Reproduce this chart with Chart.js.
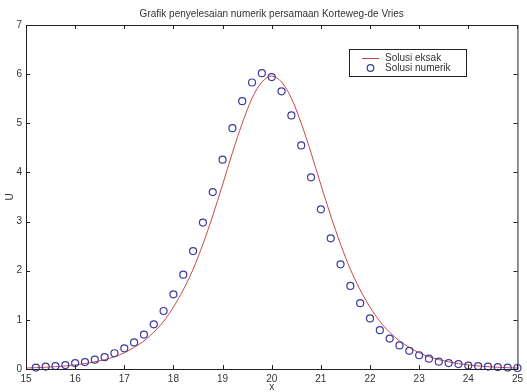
<!DOCTYPE html>
<html>
<head>
<meta charset="utf-8">
<script src="https://cdn.jsdelivr.net/npm/chart.js@4/dist/chart.umd.min.js"></script>
<style>
    html, body { margin: 0; padding: 0; background: #fff; }
    #wrap { width: 527px; height: 392px; }
</style>
</head>
<body>
<div id="wrap"><canvas id="kdvChart"></canvas></div>
<script>
const chartTitle = 'Grafik penyelesaian numerik persamaan Korteweg-de Vries';
const legendLabels = ['Solusi eksak', 'Solusi numerik'];

const exactX = [15, 15.2, 15.4, 15.6, 15.8, 16, 16.2, 16.4, 16.6, 16.8, 17, 17.2, 17.4, 17.6, 17.8,
    18, 18.2, 18.4, 18.6, 18.8, 19, 19.2, 19.4, 19.6, 19.8, 20, 20.2, 20.4, 20.6, 20.8, 21, 21.2,
    21.4, 21.6, 21.8, 22, 22.2, 22.4, 22.6, 22.8, 23, 23.2, 23.4, 23.6, 23.8, 24, 24.2, 24.4, 24.6, 24.8, 25];
const exactU = [0.02, 0.027, 0.036, 0.047, 0.062, 0.083, 0.11, 0.145, 0.19, 0.25, 0.33, 0.44, 0.57, 0.75, 0.97,
    1.26, 1.61, 2.03, 2.54, 3.12, 3.75, 4.40, 5.00, 5.51, 5.84, 5.96, 5.84, 5.51, 5.00, 4.40, 3.75, 3.12,
    2.54, 2.03, 1.61, 1.26, 0.97, 0.75, 0.57, 0.44, 0.33, 0.25, 0.19, 0.145, 0.11, 0.083, 0.062, 0.047, 0.036, 0.027, 0.02];

const numX = [15.2, 15.4, 15.6, 15.8, 16, 16.2, 16.4, 16.6, 16.8, 17, 17.2, 17.4, 17.6, 17.8,
    18, 18.2, 18.4, 18.6, 18.8, 19, 19.2, 19.4, 19.6, 19.8, 20, 20.2, 20.4, 20.6, 20.8, 21, 21.2,
    21.4, 21.6, 21.8, 22, 22.2, 22.4, 22.6, 22.8, 23, 23.2, 23.4, 23.6, 23.8, 24, 24.2, 24.4, 24.6, 24.8, 25];
const numU = [0.03, 0.05, 0.06, 0.08, 0.12, 0.14, 0.19, 0.24, 0.32, 0.42, 0.54, 0.70, 0.91, 1.18,
    1.52, 1.92, 2.40, 2.98, 3.60, 4.26, 4.90, 5.45, 5.83, 6.02, 5.94, 5.65, 5.16, 4.55, 3.90, 3.25, 2.66,
    2.13, 1.69, 1.34, 1.03, 0.79, 0.62, 0.48, 0.37, 0.28, 0.21, 0.15, 0.12, 0.10, 0.07, 0.06, 0.05, 0.04, 0.03, 0.02];

const xTicks = [15, 16, 17, 18, 19, 20, 21, 22, 23, 24, 25];
const yTicks = [0, 1, 2, 3, 4, 5, 6, 7];

const lineColor = '#c94848';
const markerColor = '#3c3c9c';
const textColor = '#333333';
const fontFamily = '"Liberation Sans", Arial, sans-serif';

// box, inward ticks on all four sides, title and legend, MATLAB style
const matlabFrame = {
    id: 'matlabFrame',
    afterDraw(chart) {
        const { ctx, chartArea: a, scales } = chart;
        const len = 4;
        ctx.save();
        ctx.strokeStyle = '#222';
        ctx.lineWidth = 1;
        ctx.strokeRect(a.left + 0.5, a.top + 0.5, a.right - a.left, a.bottom - a.top);
        ctx.beginPath();
        xTicks.forEach(v => {
            const px = Math.round(scales.x.getPixelForValue(v)) + 0.5;
            ctx.moveTo(px, a.bottom); ctx.lineTo(px, a.bottom - len);
            ctx.moveTo(px, a.top); ctx.lineTo(px, a.top + len);
        });
        yTicks.forEach(v => {
            const py = Math.round(scales.y.getPixelForValue(v)) + 0.5;
            ctx.moveTo(a.left, py); ctx.lineTo(a.left + len, py);
            ctx.moveTo(a.right, py); ctx.lineTo(a.right - len, py);
        });
        ctx.stroke();

        ctx.fillStyle = textColor;
        ctx.font = '10px ' + fontFamily;
        ctx.textAlign = 'center';
        ctx.textBaseline = 'middle';
        ctx.fillText(chartTitle, (a.left + a.right) / 2, 14);

        // legend
        const lx = 349, ly = 49, lw = 117, lh = 27;
        ctx.fillStyle = '#fff';
        ctx.fillRect(lx, ly, lw, lh);
        ctx.strokeStyle = '#222';
        ctx.strokeRect(lx + 0.5, ly + 0.5, lw, lh);
        ctx.strokeStyle = lineColor;
        ctx.beginPath();
        ctx.moveTo(lx + 13, ly + 9.5); ctx.lineTo(lx + 30, ly + 9.5);
        ctx.stroke();
        ctx.strokeStyle = markerColor;
        ctx.lineWidth = 1.2;
        ctx.beginPath();
        ctx.arc(lx + 21.5, ly + 19, 3.3, 0, Math.PI * 2);
        ctx.stroke();
        ctx.fillStyle = textColor;
        ctx.textAlign = 'left';
        ctx.fillText(legendLabels[0], lx + 36, ly + 9);
        ctx.fillText(legendLabels[1], lx + 36, ly + 19);
        ctx.restore();
    }
};

new Chart(document.getElementById('kdvChart'), {
    type: 'scatter',
    data: {
        datasets: [{
            label: legendLabels[0],
            data: exactX.map((x, i) => ({ x, y: exactU[i] })),
            showLine: true,
            borderColor: lineColor,
            borderWidth: 1,
            pointRadius: 0,
            cubicInterpolationMode: 'monotone',
            order: 2
        }, {
            label: legendLabels[1],
            data: numX.map((x, i) => ({ x, y: numU[i] })),
            showLine: false,
            borderColor: markerColor,
            backgroundColor: 'rgba(0,0,0,0)',
            borderWidth: 1.2,
            pointRadius: 3.5,
            clip: 5,
            order: 1
        }]
    },
    options: {
        responsive: true,
        maintainAspectRatio: false,
        animation: false,
        layout: { padding: { top: 25, right: 5, left: 0, bottom: 0 } },
        plugins: {
            legend: { display: false },
            title: { display: false },
            tooltip: { enabled: false }
        },
        scales: {
            x: {
                type: 'linear',
                min: 15,
                max: 25,
                afterBuildTicks: axis => { axis.ticks = xTicks.map(value => ({ value })); },
                afterFit: axis => { axis.height = 23; },
                grid: { display: false, drawTicks: false },
                border: { display: false },
                ticks: { color: textColor, font: { size: 10, family: fontFamily }, padding: 4, maxRotation: 0 },
                title: { display: true, text: 'x', color: textColor, font: { size: 10, family: fontFamily }, padding: { top: 0, bottom: -1 } }
            },
            y: {
                type: 'linear',
                min: 0,
                max: 7,
                afterBuildTicks: axis => { axis.ticks = yTicks.map(value => ({ value })); },
                afterFit: axis => { axis.width = 26; },
                grid: { display: false, drawTicks: false },
                border: { display: false },
                ticks: { color: textColor, font: { size: 10, family: fontFamily }, padding: 4 },
                title: { display: true, text: 'U', color: textColor, font: { size: 10, family: fontFamily }, padding: 4 }
            }
        }
    },
    plugins: [matlabFrame]
});
</script>
</body>
</html>
